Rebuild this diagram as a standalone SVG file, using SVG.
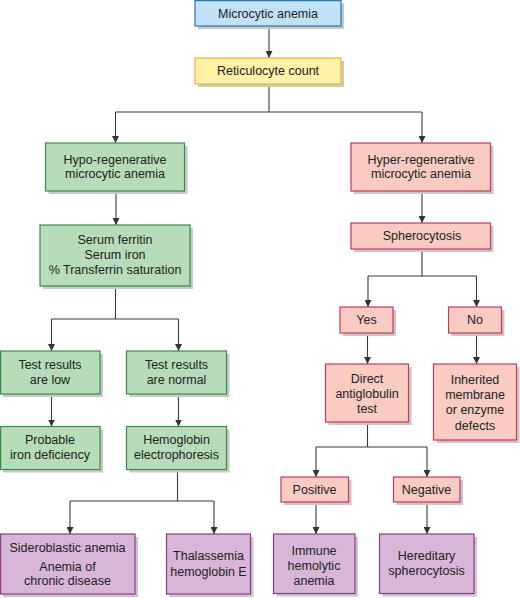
<svg xmlns="http://www.w3.org/2000/svg" width="520" height="598" viewBox="0 0 520 598">
<defs>
<marker id="ah" viewBox="0 0 8 8" refX="8" refY="4" markerWidth="7" markerHeight="7" markerUnits="userSpaceOnUse" orient="auto">
<path d="M0,0 L8,4 L0,8 Z" fill="#333"/>
</marker>
</defs>
<style>
text{font-family:"Liberation Sans",Arial,sans-serif;font-size:12.5px;fill:#222;text-anchor:middle;dominant-baseline:central}
.sh{fill:#c8c8c8}
.b{fill:#c0e1f6;stroke:#2f72b5;stroke-width:1.2}
.y{fill:#fff1a6;stroke:#efb43a;stroke-width:1.2}
.g{fill:#b6dcb9;stroke:#3b8b4c;stroke-width:1.2}
.p{fill:#f9cbc3;stroke:#c43b5c;stroke-width:1.2}
.v{fill:#d8b6d8;stroke:#8c3d8d;stroke-width:1.2}
.c path{fill:none;stroke:#3a3a3a;stroke-width:1.1}
.a{marker-end:url(#ah)}
</style>
<rect width="520" height="598" fill="#fff"/>

<g class="c" id="connectors">
<path class="a" d="M269,26 V58"/>
<path d="M269,84 V112 M115.5,112 H422"/>
<path class="a" d="M115.5,112 V143"/>
<path class="a" d="M422,112 V143"/>
<path class="a" d="M116,191 V225"/>
<path d="M115.5,286 V319 M51.5,319 H178.5"/>
<path class="a" d="M51.5,319 V351"/>
<path class="a" d="M178.5,319 V351"/>
<path class="a" d="M51.5,394 V426.5"/>
<path class="a" d="M178.5,394 V426.5"/>
<path d="M177.5,469 V501 M70,501 H214"/>
<path class="a" d="M70,501 V534"/>
<path class="a" d="M214,501 V534"/>
<path class="a" d="M422,191 V223"/>
<path d="M422,249 V276 M368,276 H476.5"/>
<path class="a" d="M368,276 V307"/>
<path class="a" d="M476.5,276 V307"/>
<path class="a" d="M367.5,333 V364"/>
<path class="a" d="M476.5,333 V364"/>
<path d="M367.5,422 V447 M316,447 H427"/>
<path class="a" d="M316,447 V477"/>
<path class="a" d="M427,447 V477"/>
<path class="a" d="M316,502 V534"/>
<path class="a" d="M427,502 V534"/>
</g>

<g id="microcytic">
<rect class="sh" x="198" y="3" width="146" height="26"/>
<rect class="b" x="195" y="0.6" width="146" height="25.4"/>
<text x="268" y="13.5">Microcytic anemia</text>
</g>
<g id="reticulocyte">
<rect class="sh" x="198" y="61" width="146" height="26"/>
<rect class="y" x="195" y="58" width="146" height="26"/>
<text x="268" y="71">Reticulocyte count</text>
</g>

<g id="hypo">
<rect class="sh" x="48.5" y="146" width="139" height="48"/>
<rect class="g" x="45.5" y="143" width="139" height="48"/>
<text x="115" y="159.5">Hypo-regenerative</text>
<text x="115" y="174">microcytic anemia</text>
</g>
<g id="serum">
<rect class="sh" x="43" y="228" width="150" height="61"/>
<rect class="g" x="40" y="225" width="150" height="61"/>
<text x="115" y="239.5">Serum ferritin</text>
<text x="115" y="255">Serum iron</text>
<text x="115" y="269.5">% Transferrin saturation</text>
</g>
<g id="low">
<rect class="sh" x="3" y="354" width="100" height="43"/>
<rect class="g" x="0.6" y="351" width="99.4" height="43"/>
<text x="50" y="364.5">Test results</text>
<text x="50" y="379.5">are low</text>
</g>
<g id="normal">
<rect class="sh" x="129.5" y="354" width="100" height="43"/>
<rect class="g" x="126.5" y="351" width="100" height="43"/>
<text x="176.5" y="364.5">Test results</text>
<text x="176.5" y="379.5">are normal</text>
</g>
<g id="iron">
<rect class="sh" x="3" y="429.5" width="100" height="43"/>
<rect class="g" x="0.6" y="426.5" width="99.4" height="43"/>
<text x="50" y="440">Probable</text>
<text x="50" y="455">iron deficiency</text>
</g>
<g id="hemoglobin">
<rect class="sh" x="129.5" y="429.5" width="100" height="43"/>
<rect class="g" x="126.5" y="426.5" width="100" height="43"/>
<text x="176.5" y="440">Hemoglobin</text>
<text x="176.5" y="455">electrophoresis</text>
</g>
<g id="sideroblastic">
<rect class="sh" x="3" y="537" width="135" height="60"/>
<rect class="v" x="0.6" y="534" width="134.4" height="60"/>
<text x="67.5" y="547.5">Sideroblastic anemia</text>
<text x="67.5" y="566.5">Anemia of</text>
<text x="67.5" y="581">chronic disease</text>
</g>
<g id="thalassemia">
<rect class="sh" x="169.5" y="537" width="84" height="60"/>
<rect class="v" x="166.5" y="534" width="84" height="60"/>
<text x="208.5" y="556">Thalassemia</text>
<text x="208.5" y="571.5">hemoglobin E</text>
</g>

<g id="hyper">
<rect class="sh" x="354" y="146" width="139.5" height="48"/>
<rect class="p" x="351" y="143" width="139.5" height="48"/>
<text x="421" y="159.5">Hyper-regenerative</text>
<text x="421" y="174">microcytic anemia</text>
</g>
<g id="spherocytosis">
<rect class="sh" x="354" y="226" width="139.5" height="26"/>
<rect class="p" x="351" y="223" width="139.5" height="26"/>
<text x="422" y="236">Spherocytosis</text>
</g>
<g id="yes">
<rect class="sh" x="343" y="310" width="53" height="26"/>
<rect class="p" x="340" y="307" width="53" height="26"/>
<text x="366.5" y="320">Yes</text>
</g>
<g id="no">
<rect class="sh" x="451.5" y="310" width="53" height="26"/>
<rect class="p" x="448.5" y="307" width="53" height="26"/>
<text x="475" y="320">No</text>
</g>
<g id="direct">
<rect class="sh" x="328.5" y="367" width="83" height="58"/>
<rect class="p" x="325.5" y="364" width="83" height="58"/>
<text x="367" y="378.5">Direct</text>
<text x="367" y="393.5">antiglobulin</text>
<text x="367" y="408.5">test</text>
</g>
<g id="inherited">
<rect class="sh" x="436.5" y="367" width="83" height="76"/>
<rect class="p" x="433.5" y="364" width="83" height="76"/>
<text x="475" y="379.5">Inherited</text>
<text x="475" y="395">membrane</text>
<text x="475" y="410">or enzyme</text>
<text x="475" y="425.5">defects</text>
</g>
<g id="positive">
<rect class="sh" x="284" y="480" width="67.5" height="25"/>
<rect class="p" x="281" y="477" width="67.5" height="25"/>
<text x="314.5" y="489.5">Positive</text>
</g>
<g id="negative">
<rect class="sh" x="396.5" y="480" width="66.5" height="25"/>
<rect class="p" x="393.5" y="477" width="66.5" height="25"/>
<text x="426.5" y="489.5">Negative</text>
</g>
<g id="immune">
<rect class="sh" x="276.5" y="537" width="81.5" height="59.5"/>
<rect class="v" x="273.5" y="534" width="81.5" height="59.5"/>
<text x="314" y="550.5">Immune</text>
<text x="314" y="566">hemolytic</text>
<text x="314" y="580.5">anemia</text>
</g>
<g id="hereditary">
<rect class="sh" x="382.5" y="537" width="94.5" height="59.5"/>
<rect class="v" x="379.5" y="534" width="94.5" height="59.5"/>
<text x="426.5" y="556">Hereditary</text>
<text x="426.5" y="571">spherocytosis</text>
</g>
</svg>
